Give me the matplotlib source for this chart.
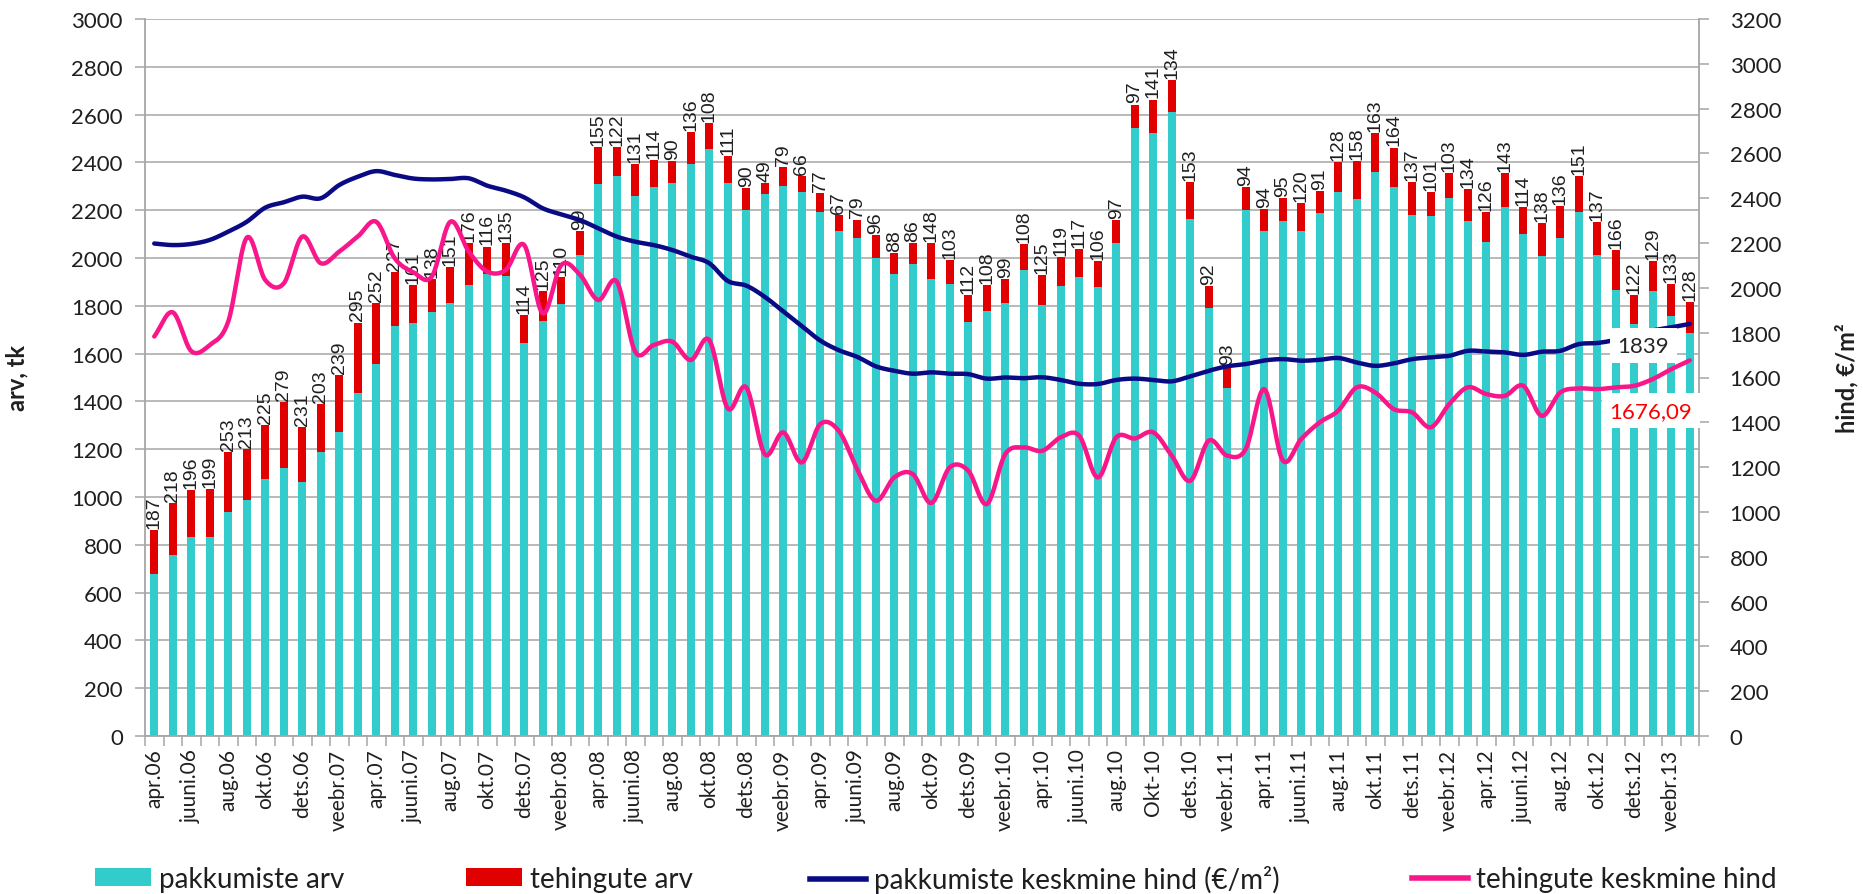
import numpy as np
import matplotlib
matplotlib.use('Agg')
import matplotlib.pyplot as plt
from matplotlib.patches import Patch
from matplotlib.lines import Line2D
from matplotlib import font_manager

# ---------------- data ----------------
months = [
    'apr.06', 'mai.06', 'juuni.06', 'juuli.06', 'aug.06', 'sept.06', 'okt.06', 'nov.06', 'dets.06',
    'jaan.07', 'veebr.07', 'märts.07', 'apr.07', 'mai.07', 'juuni.07', 'juuli.07', 'aug.07', 'sept.07', 'okt.07', 'nov.07', 'dets.07',
    'jaan.08', 'veebr.08', 'märts.08', 'apr.08', 'mai.08', 'juuni.08', 'juuli.08', 'aug.08', 'sept.08', 'okt.08', 'nov.08', 'dets.08',
    'jaan.09', 'veebr.09', 'märts.09', 'apr.09', 'mai.09', 'juuni.09', 'juuli.09', 'aug.09', 'sept.09', 'okt.09', 'nov.09', 'dets.09',
    'jaan.10', 'veebr.10', 'märts.10', 'apr.10', 'mai.10', 'juuni.10', 'juuli.10', 'aug.10', 'sept.10', 'Okt-10', 'nov.10', 'dets.10',
    'jaan.11', 'veebr.11', 'märts.11', 'apr.11', 'mai.11', 'juuni.11', 'juuli.11', 'aug.11', 'sept.11', 'okt.11', 'nov.11', 'dets.11',
    'jaan.12', 'veebr.12', 'märts.12', 'apr.12', 'mai.12', 'juuni.12', 'juuli.12', 'aug.12', 'sept.12', 'okt.12', 'nov.12', 'dets.12',
    'jaan.13', 'veebr.13', 'märts.13',
]

pakkumiste_arv = [
    676, 757, 833, 833, 937, 986, 1077, 1120, 1063, 1187,
    1272, 1435, 1558, 1716, 1726, 1775, 1813, 1885, 1932, 1926,
    1646, 1736, 1809, 2013, 2310, 2343, 2261, 2296, 2315, 2392,
    2457, 2315, 2201, 2266, 2301, 2278, 2194, 2113, 2082, 2001,
    1932, 1975, 1913, 1890, 1734, 1780, 1813, 1950, 1803, 1884,
    1922, 1880, 2061, 2545, 2522, 2612, 2163, 1789, 1455, 2201,
    2111, 2156, 2111, 2189, 2275, 2247, 2361, 2298, 2180, 2174,
    2251, 2156, 2065, 2212, 2100, 2010, 2083, 2191, 2014, 1866,
    1724, 1860, 1758, 1688,
]

tehingute_arv = [
    187, 218, 196, 199, 253, 213, 225, 279, 231, 203,
    239, 295, 252, 227, 161, 138, 151, 176, 116, 135,
    114, 125, 110, 99, 155, 122, 131, 114, 90, 136,
    108, 111, 90, 49, 79, 66, 77, 67, 79, 96,
    88, 86, 148, 103, 112, 108, 99, 108, 125, 119,
    117, 106, 97, 97, 141, 134, 153, 92, 93, 94,
    94, 95, 120, 91, 128, 158, 163, 164, 137, 101,
    103, 134, 126, 143, 114, 138, 136, 151, 137, 166,
    122, 129, 133, 128,
]

pakkumiste_hind = [
    2198, 2191, 2196, 2214, 2251, 2295, 2358, 2382, 2407, 2400,
    2459, 2496, 2521, 2504, 2488, 2484, 2486, 2489, 2456, 2434,
    2404, 2355, 2328, 2303, 2266, 2229, 2206, 2191, 2169, 2139,
    2110, 2031, 2010, 1960, 1895, 1830, 1765, 1722, 1692, 1650,
    1630, 1617, 1623, 1617, 1615, 1595, 1600, 1597, 1601, 1589,
    1572, 1571, 1589, 1595, 1589, 1583, 1605, 1630, 1650, 1660,
    1676, 1682, 1675, 1679, 1687, 1667, 1652, 1663, 1682, 1690,
    1697, 1719, 1716, 1712, 1701, 1715, 1719, 1749, 1754, 1768,
    1790, 1810, 1824, 1839,
]

tehingute_hind = [
    1783, 1891, 1718, 1745, 1850, 2224, 2035, 2020, 2229, 2110,
    2162, 2229, 2295, 2132, 2070, 2050, 2295, 2162, 2073, 2080,
    2191, 1886, 2102, 2060, 1946, 2028, 1715, 1745, 1760, 1678,
    1767, 1462, 1556, 1258, 1355, 1221, 1392, 1362, 1191, 1050,
    1154, 1169, 1040, 1199, 1184, 1035, 1258, 1288, 1273, 1333,
    1340, 1154, 1333, 1328, 1355, 1251, 1139, 1318, 1251, 1281,
    1548, 1230, 1326, 1400, 1452, 1556, 1533, 1459, 1444, 1378,
    1481, 1556, 1526, 1518, 1563, 1429, 1533, 1551, 1548, 1556,
    1563, 1593, 1637, 1676.09,
]

label_last_offer = '1839'
label_last_deal = '1676,09'

legend_labels = ['pakkumiste arv', 'tehingute arv',
                 'pakkumiste keskmine hind (€/m²)', 'tehingute keskmine hind']

# ---------------- style ----------------
CYAN = '#33CCCC'
RED = '#E00000'
BLUE = '#0A0A85'
PINK = '#F8168A'
GRID = '#A6A6A6'
TXT = '#1F1F1F'

plt.rcParams['font.family'] = ['Lato', 'DejaVu Sans']
names = {f.name for f in font_manager.fontManager.ttflist}
if 'Liberation Sans Narrow' in names:
    narrow, narrow_size = 'Liberation Sans Narrow', 15
elif 'Liberation Sans' in names:
    narrow, narrow_size = 'Liberation Sans', 14
else:
    narrow, narrow_size = 'DejaVu Sans', 12.5


def smooth(y, n=20):
    y = np.asarray(y, float)
    m = np.gradient(y)
    xs, ys = [], []
    t = np.linspace(0, 1, n, endpoint=False)
    h00 = 2 * t**3 - 3 * t**2 + 1
    h10 = t**3 - 2 * t**2 + t
    h01 = -2 * t**3 + 3 * t**2
    h11 = t**3 - t**2
    for i in range(len(y) - 1):
        xs.append(i + t)
        ys.append(h00 * y[i] + h10 * m[i] + h01 * y[i + 1] + h11 * m[i + 1])
    xs.append([len(y) - 1])
    ys.append([y[-1]])
    return np.concatenate(xs), np.concatenate(ys)


W, H = 1863, 895
fig = plt.figure(figsize=(W / 100, H / 100), dpi=100)
ax = fig.add_axes([145 / W, 1 - 737 / H, 1554 / W, 717 / H])

x = np.arange(len(months))
ax.bar(x, pakkumiste_arv, width=0.41, color=CYAN, zorder=2)
ax.bar(x, tehingute_arv, bottom=pakkumiste_arv, width=0.41, color=RED, zorder=2)

totals = np.array(pakkumiste_arv) + np.array(tehingute_arv)
for xi, tot, v in zip(x, totals, tehingute_arv):
    ax.annotate(str(v), (xi, tot), xytext=(0, 1.5), textcoords='offset points',
                rotation=90, ha='center', va='bottom', fontsize=narrow_size,
                family=narrow, color=TXT, zorder=3)

ax.set_xlim(-0.5, len(months) - 0.5)
ax.set_ylim(0, 3000)
ax.set_yticks(np.arange(0, 3001, 200))
ax.yaxis.grid(True, color=GRID, lw=1.1)
ax.set_axisbelow(True)
ax.set_xticks(x[::2])
ax.set_xticklabels(months[::2])
ax.set_xticks(np.arange(-0.5, len(months), 1), minor=True)
ax.tick_params(axis='x', which='major', length=0, pad=9, labelsize=15,
               labelrotation=90, labelcolor=TXT)
ax.tick_params(axis='x', which='minor', length=7, color=GRID, width=1.1)
ax.tick_params(axis='y', length=7, color=GRID, width=1.1, pad=9,
               labelsize=16, labelcolor=TXT)
for s in ['top', 'right']:
    ax.spines[s].set_visible(False)
for s in ['left', 'bottom']:
    ax.spines[s].set_color(GRID)
    ax.spines[s].set_linewidth(1.3)
ax.set_ylabel('arv, tk', fontsize=17, fontweight='bold', color=TXT)
ax.yaxis.set_label_coords(-0.075, 0.5)

ax2 = ax.twinx()
ax2.set_ylim(0, 3200)
ax2.set_yticks(np.arange(0, 3201, 200))
for s in ['top', 'left', 'bottom']:
    ax2.spines[s].set_visible(False)
ax2.spines['right'].set_color(GRID)
ax2.spines['right'].set_linewidth(1.3)
ax2.tick_params(axis='y', length=7, color=GRID, width=1.1, pad=15,
                labelsize=16, labelcolor=TXT)
ax2.set_ylabel('hind, €/m²', fontsize=17, fontweight='bold', color=TXT)
ax2.yaxis.set_label_coords(1.0875, 0.5)

bx, by = smooth(pakkumiste_hind)
px, py = smooth(tehingute_hind)
ax2.plot(bx, by, color=BLUE, lw=3.2, solid_capstyle='round', zorder=3)
ax2.plot(px, py, color=PINK, lw=3.2, solid_capstyle='round', zorder=3)

ax2.text(80.5, 1742, label_last_offer, ha='center', va='center', fontsize=16,
         color='#262626', zorder=10,
         bbox=dict(boxstyle='square,pad=0.35', fc='white', ec='none'))
ax2.text(80.9, 1452, label_last_deal, ha='center', va='center', fontsize=16,
         color='#FF0000', zorder=10,
         bbox=dict(boxstyle='square,pad=0.35', fc='white', ec='none'))

# ---------------- legend ----------------
handles = [Patch(facecolor=CYAN, edgecolor='none'),
           Patch(facecolor=RED, edgecolor='none'),
           Line2D([0], [0], color=BLUE, lw=4),
           Line2D([0], [0], color=PINK, lw=4)]
starts = [95, 466, 810, 1412]
for h, lab, xs0 in zip(handles, legend_labels, starts):
    fig.legend(handles=[h], labels=[lab], loc='center left',
               bbox_to_anchor=(xs0 / W, 1 - 880 / H), frameon=False,
               fontsize=20, handlelength=2.0, handleheight=0.6,
               handletextpad=0.3, borderpad=0, borderaxespad=0,
               labelcolor=TXT)

fig.savefig('out.png', dpi=100, facecolor='white')
